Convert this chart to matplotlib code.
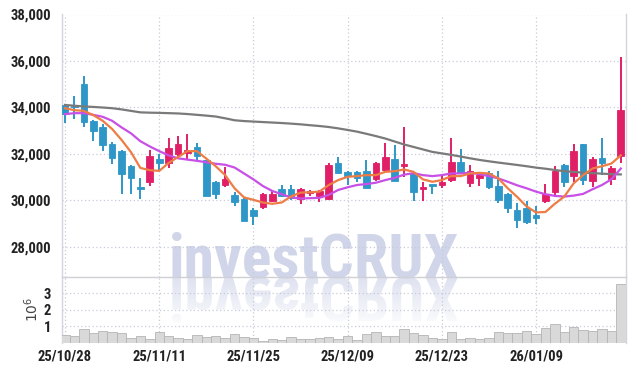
import numpy as np
import matplotlib
matplotlib.use("Agg")
import matplotlib.pyplot as plt
from matplotlib.textpath import TextPath
from matplotlib.patches import PathPatch
from matplotlib.font_manager import FontProperties

# ---- data ----
tick_labels = ["25/10/28", "25/11/11", "25/11/25", "25/12/09", "25/12/23", "26/01/09"]
tick_idx = [0, 10, 20, 30, 40, 50]

opens = [34106, 34064, 35013, 33426, 33142, 32404, 32106, 31468, 30587, 30800,
         31766, 31625, 32008, 32034, 32290, 31723, 30800, 30660, 30234, 30050,
         29596, 29694, 29991, 30477, 30477, 30050, 30306, 30191, 30050, 31609,
         31213, 31213, 31270, 30900, 31298, 31794, 31481, 31183, 30489, 30660,
         30660, 30872, 31652, 30757, 30970, 31183, 30617, 30277, 29566, 29668,
         29383, 29991, 30375, 31510, 31043, 32404, 30843, 31821, 30900, 31906]
highs = [34160, 34490, 35340, 33468, 33285, 32502, 32149, 31510, 30945, 32177,
         32008, 32689, 32787, 32860, 32460, 31752, 30830, 31440, 30376, 30094,
         29668, 30332, 30447, 30660, 30660, 30519, 30447, 30447, 31609, 31864,
         31255, 31255, 31723, 31652, 32460, 32362, 33170, 31226, 30800, 30660,
         31085, 32672, 32221, 31510, 31157, 31255, 31255, 30300, 29877, 29991,
         29736, 30689, 31498, 31553, 32404, 32404, 31864, 32689, 31468, 36149]
lows = [33350, 33500, 33170, 32574, 32120, 31583, 30264, 30264, 30050, 30617,
        31298, 31413, 31794, 31794, 31723, 30191, 30050, 30560, 29736, 29098,
        28957, 29638, 29949, 30136, 30021, 29838, 30191, 29949, 30021, 31157,
        30660, 30800, 30545, 30830, 31226, 30843, 31013, 29979, 29979, 30264,
        30519, 30800, 31157, 30560, 30617, 30500, 29906, 29451, 28817, 29000,
        29000, 29877, 30162, 30560, 30800, 30660, 30560, 31085, 30660, 31609]
closes = [33710, 34008, 33383, 32970, 32362, 31821, 31140, 30970, 30502, 31894,
          31609, 32264, 32404, 32149, 31894, 30191, 30277, 30915, 29949, 29098,
          29311, 30277, 30264, 30191, 30094, 30477, 30404, 30404, 31510, 31157,
          31055, 30945, 30545, 31625, 31864, 30843, 31583, 30375, 30587, 30617,
          30800, 31652, 31157, 31255, 31085, 30587, 30021, 29651, 29140, 29055,
          29226, 30277, 31255, 30800, 32106, 30872, 31766, 31609, 31413, 33894]

# moving averages as drawn on the reference
ma_short = [33966, 33881, 33851, 33668, 33425, 33072, 32604, 32077, 31396, 31298,
            31268, 31609, 31864, 32119, 32119, 31796, 31468, 31085, 30519, 30128,
            30021, 29907, 29851, 29907, 30170, 30332, 30349, 30375, 30660, 30872,
            31013, 31043, 31085, 31085, 31226, 31255, 31328, 31226, 30902, 30800,
            30872, 31043, 31043, 31157, 31183, 31157, 30945, 30519, 30149, 29736,
            29481, 29498, 29851, 30162, 30732, 31085, 31370, 31468, 31583, 31936]
ma_mid = [33711, 33753, 33753, 33681, 33596, 33425, 33140, 32885, 32545, 32319,
          32119, 31936, 31809, 31753, 31702, 31638, 31574, 31532, 31413, 31158,
          30902, 30617, 30404, 30264, 30128, 30077, 30094, 30107, 30234, 30447,
          30562, 30660, 30702, 30758, 30872, 30970, 31106, 31170, 31085, 31043,
          31085, 31158, 31158, 31183, 31128, 31043, 30945, 30800, 30647, 30519,
          30375, 30264, 30192, 30162, 30204, 30277, 30477, 30660, 30902, 31370]
ma_long = [34106, 34072, 34042, 34021, 33996, 33966, 33915, 33851, 33787, 33774,
           33766, 33753, 33740, 33715, 33681, 33647, 33608, 33532, 33447, 33413,
           33391, 33370, 33349, 33328, 33302, 33272, 33234, 33200, 33157, 33098,
           33030, 32957, 32864, 32766, 32660, 32532, 32404, 32298, 32191, 32085,
           32021, 31957, 31885, 31809, 31740, 31681, 31626, 31574, 31523, 31468,
           31409, 31362, 31306, 31255, 31221, 31192, 31170, 31149, 31128, 31115]

volume_m = [0.47, 0.40, 0.81, 0.61, 0.71, 0.65, 0.57, 0.26, 0.40, 0.20,
            0.65, 0.40, 0.26, 0.20, 0.44, 0.34, 0.40, 0.28, 0.53, 0.34,
            0.26, 0.12, 0.20, 0.14, 0.32, 0.20, 0.22, 0.26, 0.32, 0.20,
            0.40, 0.14, 0.53, 0.65, 0.40, 0.40, 0.81, 0.59, 0.44, 0.28,
            0.22, 0.63, 0.20, 0.26, 0.20, 0.28, 0.65, 0.59, 0.59, 0.69,
            0.55, 0.87, 1.11, 0.65, 0.93, 0.75, 0.71, 0.81, 0.71, 3.60]

# ---- styling ----
fam = ["Roboto Condensed", "DejaVu Sans"]
UP = "#e01f66"
DOWN = "#2f97c8"
GRID = "#c8cadb"
TXT = "#222222"
WM = "#d0d5e9"

W, H = 634, 371
fig = plt.figure(figsize=(W / 100, H / 100), dpi=100)

# watermark layer, pixel coords with y pointing down
bg = fig.add_axes([0, 0, 1, 1], zorder=-1)
bg.axis("off")
wm_prop = FontProperties(family=fam, weight="bold")
probe = TextPath((0, 0), "investCRUX", size=100, prop=wm_prop).get_extents()
wm_px = 100 * 286 / probe.width
wm_x, wm_base = 172 - probe.x0 * wm_px / 100, 277
bg.text(wm_x, wm_base, "investCRUX", fontproperties=wm_prop, fontsize=wm_px * 0.72,
        color=WM, ha="left", va="baseline")
# mirrored copy below the baseline, fading out
tp = TextPath((wm_x, wm_base), "investCRUX", size=wm_px, prop=wm_prop)
refl = PathPatch(tp, facecolor="none", edgecolor="none")
bg.add_patch(refl)
grad = np.ones((60, 2, 4))
grad[..., 0], grad[..., 1], grad[..., 2] = 0xd0 / 255, 0xd5 / 255, 0xe9 / 255
grad[..., 3] = np.linspace(0.7, 0.05, 60)[:, None]
im = bg.imshow(grad, extent=[wm_x - 5, wm_x + 320, wm_base + 50, wm_base], aspect="auto")
im.set_clip_path(refl)
bg.set_xlim(0, W)
bg.set_ylim(H, 0)

L = 62 / W
Wd = 563.5 / W
ax = fig.add_axes([L, (H - 277) / H, Wd, (277 - 14.5) / H])
axv = fig.add_axes([L, (H - 342.7) / H, Wd, (342.7 - 277) / H], sharex=ax)
for a in (ax, axv):
    a.set_facecolor("none")
    a.grid(True, color=GRID, linestyle=(0, (1, 2)), linewidth=0.9)
    a.set_axisbelow(True)
    a.tick_params(length=0, colors=TXT)
    for s in a.spines.values():
        s.set_color("#d4d4dc")
        s.set_linewidth(1)
    a.spines["top"].set_visible(False)

x = np.arange(len(opens))
o = np.array(opens)
c = np.array(closes)
cols = [UP if cc > oo else DOWN for oo, cc in zip(o, c)]

ax.vlines(x, lows, highs, colors=cols, linewidth=1.4, zorder=3)
body_low = np.minimum(o, c)
body_h = np.maximum(np.abs(c - o), 70)
ax.bar(x, body_h, bottom=body_low, width=0.7, color=cols, edgecolor=cols,
       linewidth=0.6, zorder=4)

ax.plot(x, ma_long, color="#7a7a7a", linewidth=1.6, zorder=5)
ax.plot(x, ma_mid, color="#c850e6", linewidth=1.6, zorder=5)
ax.plot(x, ma_short, color="#ee7d45", linewidth=1.6, zorder=6)

ax.set_xlim(-0.32, 59.5)
ax.set_ylim(26700, 38000)
ax.set_yticks([28000, 30000, 32000, 34000, 36000, 38000])
ax.set_yticklabels(["28,000", "30,000", "32,000", "34,000", "36,000", "38,000"],
                   family=fam, fontweight="bold", fontsize=10.5, color=TXT)
ax.tick_params(axis="y", pad=8)
ax.spines["bottom"].set_color("#cfcfd6")
plt.setp(ax.get_xticklabels(), visible=False)

axv.bar(x, volume_m, width=1.0, color="#d9d9d9", edgecolor="#b5b5b5", linewidth=0.6, zorder=3)
axv.set_ylim(0, 4.0)
axv.set_yticks([1, 2, 3])
axv.set_yticklabels(["1", "2", "3"], family=fam, fontweight="bold", fontsize=10.5, color=TXT)
axv.tick_params(axis="y", pad=8)
axv.set_xticks(tick_idx)
axv.set_xticklabels(tick_labels, family=fam, fontweight="bold", fontsize=10.5, color=TXT)
axv.tick_params(axis="x", pad=5)
axv.set_ylabel(r"$10^6$", color="#444444", fontsize=10, labelpad=2)
axv.spines["bottom"].set_visible(False)

fig.savefig("out.png", dpi=100)
